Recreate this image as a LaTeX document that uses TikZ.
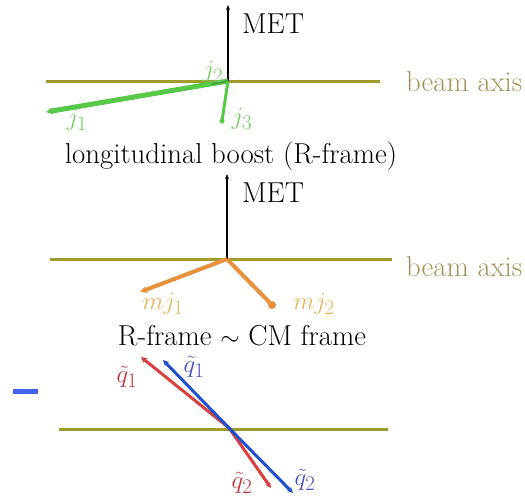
\documentclass[tikz,border=0pt]{standalone}
\usetikzlibrary{arrows.meta}
\definecolor{beamc}{HTML}{A09C2C}
\definecolor{beamtxt}{HTML}{A8925A}
\definecolor{jgreen}{HTML}{58C848}
\definecolor{jtxt}{HTML}{70D060}
\definecolor{morange}{HTML}{E8903C}
\definecolor{mtxt}{HTML}{E8B458}
\definecolor{qred}{HTML}{D84040}
\definecolor{qredtxt}{HTML}{C03434}
\definecolor{qblue}{HTML}{2050D0}
\definecolor{qbluetxt}{HTML}{4050C0}
\definecolor{dashblue}{HTML}{4262F0}
\tikzset{
  lbl/.style={font=\fontsize{28.8}{32}\selectfont, inner sep=0pt},
  baselbl/.style={lbl, anchor=base west},
  beam/.style={beamc, line width=3pt},
  met/.style={black, line width=1.6pt, -{Stealth[length=5pt,width=4pt]}},
  tip/.style={-{Stealth[length=7pt,width=7pt]}},
}
\begin{document}
\begin{tikzpicture}[x=1pt,y=-1pt]
\useasboundingbox (0,0) rectangle (525,498);
% ---------- panel 1 ----------
\coordinate (o1) at (228,81);
\coordinate (b1l) at (46,81);
\coordinate (b1r) at (380,81);
\coordinate (met1) at (228,5);
\coordinate (j1e) at (46,112);
\coordinate (j2e) at (212,84);
\coordinate (j3e) at (222,121);
\draw[beam] (b1l) -- (b1r);
\draw[met] (o1) -- (met1);
\node[baselbl] (metl1) at (242,33) {MET};
\node[baselbl, text=beamtxt] (beaml1) at (406,91) {beam axis};
\draw[jgreen, line width=5pt, tip] (o1) -- (j1e);
\draw[jgreen!80!black, line width=2pt] (o1) -- (j2e);
\draw[jgreen, line width=3pt] (o1) -- (j3e);
\fill[jgreen] (j3e) circle (2.6pt);
\node[lbl, text=jtxt] (j1l) at (77,120) {$j_1$};
\node[lbl, text=jtxt] (j2l) at (213,72) {$j_2$};
\node[lbl, text=jtxt] (j3l) at (242,119) {$j_3$};
\node[lbl, anchor=base] (t1) at (231,163) {longitudinal boost (R-frame)};
% ---------- panel 2 ----------
\coordinate (o2) at (227,259);
\coordinate (b2l) at (50,259);
\coordinate (b2r) at (392,259);
\coordinate (met2) at (227,174);
\coordinate (m1e) at (140,292);
\coordinate (m2e) at (272,305);
\draw[beam] (b2l) -- (b2r);
\draw[met] (o2) -- (met2);
\node[baselbl] (metl2) at (242,202) {MET};
\node[baselbl, text=beamtxt] (beaml2) at (406,276) {beam axis};
\draw[morange, line width=4pt, tip] (o2) -- (m1e);
\draw[morange, line width=4pt] (o2) -- (m2e);
\fill[morange] (m2e) circle (4pt);
\node[lbl, text=mtxt] (m1l) at (163,304) {$mj_1$};
\node[lbl, text=mtxt] (m2l) at (314,304) {$mj_2$};
\node[lbl, anchor=base] (t2) at (242,345) {R-frame $\sim$ CM frame};
% ---------- panel 3 ----------
\coordinate (o3) at (229,428);
\coordinate (b3l) at (59,429);
\coordinate (b3r) at (388,429);
\coordinate (rq1) at (141,357);
\coordinate (rq2) at (271,488);
\coordinate (bq1) at (163,360);
\coordinate (bq2) at (293,493);
\draw[beam] (b3l) -- (b3r);
\draw[qred, line width=3pt, -{Stealth[length=6pt,width=6pt]}] (o3) -- (rq1);
\draw[qred, line width=3pt, -{Stealth[length=6pt,width=6pt]}] (o3) -- (rq2);
\draw[qblue, line width=3pt, -{Stealth[length=6pt,width=6pt]}] (o3) -- (bq1);
\draw[qblue, line width=3pt, -{Stealth[length=6pt,width=6pt]}] (o3) -- (bq2);
\node[lbl, text=qredtxt] (rq1l) at (127,377) {$\tilde q_1$};
\node[lbl, text=qbluetxt] (bq1l) at (194,367) {$\tilde q_1$};
\node[lbl, text=qredtxt] (rq2l) at (242,483) {$\tilde q_2$};
\node[lbl, text=qbluetxt] (bq2l) at (305,480) {$\tilde q_2$};
\coordinate (d1) at (13,391);
\coordinate (d2) at (38,391);
\draw[dashblue, line width=5pt] (d1) -- (d2);
\end{tikzpicture}
\end{document}
